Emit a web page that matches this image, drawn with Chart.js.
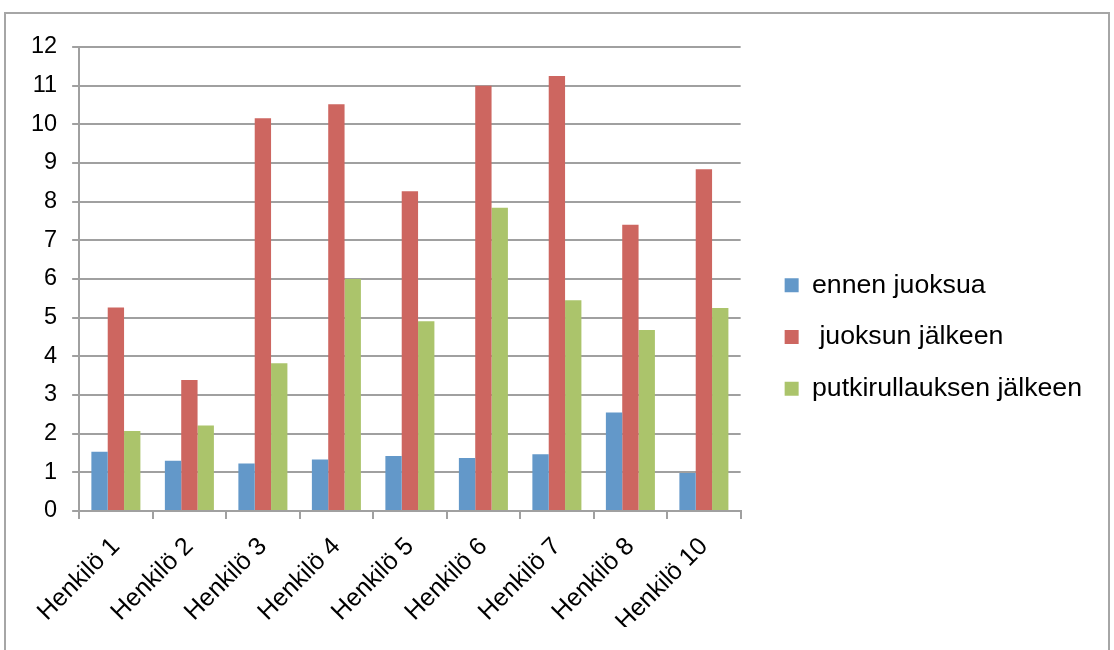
<!DOCTYPE html>
<html>
<head>
<meta charset="utf-8">
<script src="https://cdn.jsdelivr.net/npm/chart.js@4/dist/chart.umd.min.js"></script>
<style>
  html, body { margin: 0; padding: 0; background: #fff; }
  #wrap { position: absolute; left: 4px; top: 12px; width: 1106px; height: 640px; border: 2px solid #a6a6a6; box-sizing: border-box; }
  canvas { display: block; }
</style>
</head>
<body>
<div id="wrap"><canvas id="c" width="1102" height="636"></canvas></div>
<script>
const categories = ["Henkilö 1", "Henkilö 2", "Henkilö 3", "Henkilö 4", "Henkilö 5", "Henkilö 6", "Henkilö 7", "Henkilö 8", "Henkilö 10"];
const ennenJuoksua = [1.53, 1.30, 1.23, 1.33, 1.42, 1.37, 1.47, 2.55, 0.98];
const juoksunJalkeen = [5.26, 3.39, 10.16, 10.52, 8.27, 11.0, 11.25, 7.40, 8.84];
const putkirullauksenJalkeen = [2.07, 2.21, 3.82, 6.0, 4.91, 7.84, 5.45, 4.68, 5.25];
const seriesNames = ["ennen juoksua", " juoksun jälkeen", "putkirullauksen jälkeen"];

Chart.defaults.font.family = "'Liberation Sans', Arial, sans-serif";
Chart.defaults.color = "#000";

new Chart(document.getElementById("c"), {
  type: "bar",
  data: {
    labels: categories,
    datasets: [
      { label: seriesNames[0], data: ennenJuoksua, backgroundColor: "#6398c9", yAxisID: "y" },
      { label: seriesNames[1], data: juoksunJalkeen, backgroundColor: "#cd6660", yAxisID: "y" },
      { label: seriesNames[2], data: putkirullauksenJalkeen, backgroundColor: "#abc46b", yAxisID: "y" }
    ]
  },
  options: {
    responsive: false,
    animation: false,
    layout: { padding: { left: 10, right: 16, top: 33, bottom: 23 } },
    datasets: { bar: { categoryPercentage: 0.667, barPercentage: 1.0 } },
    plugins: {
      legend: {
        position: "right",
        maxWidth: 400,
        labels: { boxWidth: 14, boxHeight: 14, padding: 25, font: { size: 26.7 }, color: "#000" }
      },
      tooltip: { enabled: false }
    },
    scales: {
      x: {
        grid: { display: true, drawOnChartArea: false, drawTicks: true, tickLength: 8, color: "#a0a0a0", lineWidth: 2, offset: true },
        border: { color: "#a0a0a0", width: 2 },
        ticks: { minRotation: 45, maxRotation: 45, autoSkip: false, padding: 13, font: { size: 25 }, color: "#000" },
        afterFit: (s) => { s.height = 116; }
      },
      y: {
        min: 0, max: 12,
        grid: { color: "#a0a0a0", lineWidth: 2, tickLength: 7 },
        border: { color: "#a0a0a0", width: 2 },
        ticks: { stepSize: 1, padding: 15, font: { size: 23.5 }, color: "#000" }
      },
      y1: {
        position: "right",
        display: true,
        grid: { display: false, drawTicks: false },
        border: { display: false },
        ticks: { display: false },
        afterFit: (s) => { s.width = 19; }
      }
    }
  }
});
</script>
</body>
</html>
